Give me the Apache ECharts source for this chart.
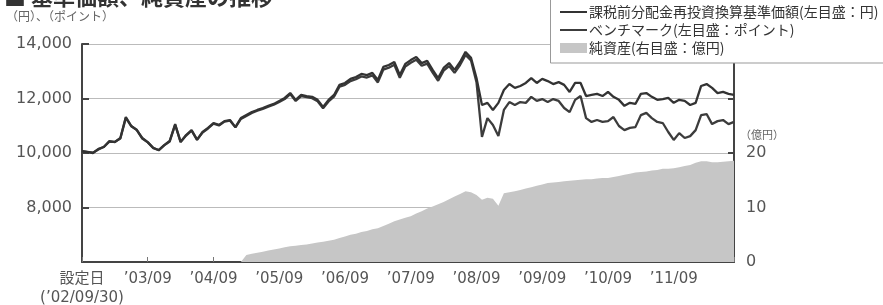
<!DOCTYPE html>
<html><head><meta charset="utf-8">
<script src="https://cdn.jsdelivr.net/npm/echarts@6/dist/echarts.min.js"></script>
<style>html,body{margin:0;padding:0;background:#fff}#c{width:883px;height:305px}</style>
</head><body><div id="c"></div>
<script>
const fundName = '課税前分配金再投資換算基準価額(左目盛：円)';
const benchName = 'ベンチマーク(左目盛：ポイント)';
const navName = '純資産(右目盛：億円)';

// monthly values, 2002/09 ... 2012/08
const fundValues = [
  10070,10040,10000,10150,10220,10440,10400,10550,11320,10990,10840,10550,
  10400,10180,10110,10290,10440,11060,10400,10660,10840,10480,10770,10920,
  11100,11030,11170,11210,10950,11280,11390,11500,11580,11650,11730,11800,
  11910,12020,12200,11950,12130,12090,12060,11950,11690,11950,12130,12500,
  12570,12720,12790,12900,12860,12940,12680,13160,13230,13340,12860,13270,
  13410,13520,13300,13380,13050,12750,13120,13300,13050,13340,13710,13490,
  12750,11760,11840,11580,11840,12310,12530,12390,12460,12570,12750,12570,
  12720,12640,12530,12600,12500,12240,12570,12570,12090,12130,12170,12090,
  12240,12060,11950,11730,11840,11800,12170,12200,12060,11950,11980,12020,
  11840,11950,11910,11760,11840,12460,12530,12390,12200,12240,12170,12130
];
const benchValues = [
  10070,10030,10010,10130,10230,10420,10410,10530,11290,10980,10850,10530,
  10390,10190,10100,10280,10420,11030,10410,10640,10820,10490,10750,10900,
  11080,11010,11150,11190,10940,11250,11360,11470,11550,11620,11700,11770,
  11870,11980,12160,11910,12090,12050,12010,11900,11640,11890,12070,12430,
  12500,12640,12710,12810,12770,12850,12590,13060,13130,13240,12760,13170,
  13310,13420,13200,13280,12950,12650,13020,13190,12940,13230,13600,13400,
  12600,10590,11280,11030,10620,11580,11870,11760,11870,11840,12060,11910,
  11980,11870,11980,11910,11650,11500,11950,12090,11280,11140,11210,11140,
  11170,11320,10990,10840,10920,10950,11390,11470,11280,11140,11100,10770,
  10480,10730,10550,10620,10840,11390,11430,11060,11170,11210,11060,11140
];
const netAssets = [
  0,0,0,0,0,0,0,0,0,0,0,0,
  0,0,0,0,0,0,0,0,0,0,0,0,
  0,0,0,0,0,0,1.3,1.5,1.7,1.9,2.1,2.3,
  2.5,2.7,2.9,3.0,3.1,3.2,3.4,3.6,3.7,3.9,4.1,4.4,
  4.7,5.0,5.2,5.5,5.7,6.0,6.2,6.6,7.0,7.5,7.8,8.1,
  8.4,8.9,9.3,9.8,10.2,10.6,11.0,11.5,12.0,12.5,13.0,12.8,
  12.3,11.4,11.8,11.6,10.3,12.6,12.8,13.0,13.2,13.5,13.7,14.0,
  14.2,14.5,14.6,14.7,14.8,14.9,15.0,15.1,15.2,15.2,15.3,15.4,
  15.4,15.6,15.8,16.0,16.2,16.4,16.5,16.6,16.8,16.9,17.1,17.1,
  17.2,17.4,17.6,17.8,18.2,18.5,18.5,18.3,18.3,18.4,18.5,18.6
];
const xTickLabels = ['設定日\n(’02/09/30)','’03/09','’04/09','’05/09','’06/09','’07/09','’08/09','’09/09','’10/09','’11/09'];
const leftTickValues = [6000, 8000, 10000, 12000, 14000];
const leftTickLabels = ['', '8,000', '10,000', '12,000', '14,000'];
const rightTickValues = [0, 10, 20, 30, 40];
const rightTickLabels = ['0', '10', '20', '', ''];

const toPairs = arr => arr.map((v, i) => [i, v]);
const FONT = '"Noto Sans CJK JP", "Noto Sans", sans-serif';
const NUMFONT = '"DejaVu Sans", "Noto Sans CJK JP", sans-serif';

const chart = echarts.init(document.getElementById('c'));
chart.setOption({
  animation: false,
  textStyle: { fontFamily: FONT },
  grid: { left: 82, right: 149, top: 44, bottom: 43, containLabel: false, outerBoundsMode: 'none' },
  graphic: [
    { type: 'text', left: 4, top: -14, z: 10,
      style: { text: '■ 基準価額、純資産の推移', fontSize: 22, fontWeight: 'bold', fill: '#333', fontFamily: FONT } },
    { type: 'text', left: 6, top: 10, z: 10,
      style: { text: '（円）、（ポイント）', fontSize: 12, fill: '#666', fontFamily: FONT } },
    { type: 'text', left: 740, top: 129, z: 10,
      style: { text: '（億円）', fontSize: 11, fill: '#666', fontFamily: FONT } },
    { type: 'rect', z: 50, shape: { x: 550.5, y: -2, width: 340, height: 65 },
      style: { fill: '#fff', stroke: '#999', lineWidth: 1 } }
  ],
  legend: {
    orient: 'vertical', left: 555, top: 0, z: 60,
    itemWidth: 27, itemHeight: 10, itemGap: 4, symbolKeepAspect: true,
    textStyle: { fontSize: 14, lineHeight: 14, color: '#333', fontFamily: FONT, padding: [0, 0, 0, -3] },
    data: [
      { name: fundName, icon: 'path://M0,0H27V2H0Z' },
      { name: benchName, icon: 'path://M0,0H27V2H0Z' },
      { name: navName, icon: 'rect' }
    ]
  },
  xAxis: {
    type: 'value', min: 0, max: 119, interval: 12,
    axisLine: { show: true, lineStyle: { color: '#444', width: 2 } },
    axisTick: { show: true, inside: true, length: 5, lineStyle: { color: '#777' } },
    splitLine: { show: false },
    axisLabel: {
      color: '#555', fontSize: 15, lineHeight: 19, margin: 8, showMaxLabel: true, fontFamily: NUMFONT,
      formatter: v => (v % 12 === 0 && v / 12 < xTickLabels.length) ? xTickLabels[v / 12] : ''
    }
  },
  yAxis: [
    {
      type: 'value', min: 6000, max: 14000, interval: 2000,
      axisLine: { show: true, lineStyle: { color: '#444', width: 2 } },
      axisTick: { show: true, inside: true, length: 7, lineStyle: { color: '#444', width: 2 } },
      splitLine: { show: true, lineStyle: { color: '#bbb', width: 1 } },
      axisLabel: { color: '#555', fontSize: 16, margin: 10, fontFamily: NUMFONT,
        formatter: v => leftTickLabels[leftTickValues.indexOf(v)] || '' }
    },
    {
      type: 'value', min: 0, max: 40, interval: 10, position: 'right',
      axisLine: { show: true, lineStyle: { color: '#444', width: 2 } },
      axisTick: { show: true, inside: true, length: 6, lineStyle: { color: '#444', width: 2 } },
      splitLine: { show: false },
      axisLabel: { color: '#555', fontSize: 16, margin: 12, fontFamily: NUMFONT,
        formatter: v => rightTickLabels[rightTickValues.indexOf(v)] || '' }
    }
  ],
  series: [
    { name: navName, type: 'line', yAxisIndex: 1, data: toPairs(netAssets), symbol: 'none',
      lineStyle: { width: 0 }, itemStyle: { color: '#c6c6c6' },
      areaStyle: { color: '#c6c6c6', opacity: 1 }, z: 1 },
    { name: benchName, type: 'line', yAxisIndex: 0, data: toPairs(benchValues), symbol: 'none',
      lineStyle: { color: '#3c3c3c', width: 2.3 }, itemStyle: { color: '#3c3c3c' }, z: 3 },
    { name: fundName, type: 'line', yAxisIndex: 0, data: toPairs(fundValues), symbol: 'none',
      lineStyle: { color: '#333', width: 2.3 }, itemStyle: { color: '#333' }, z: 4 }
  ]
});
</script>
</body></html>
